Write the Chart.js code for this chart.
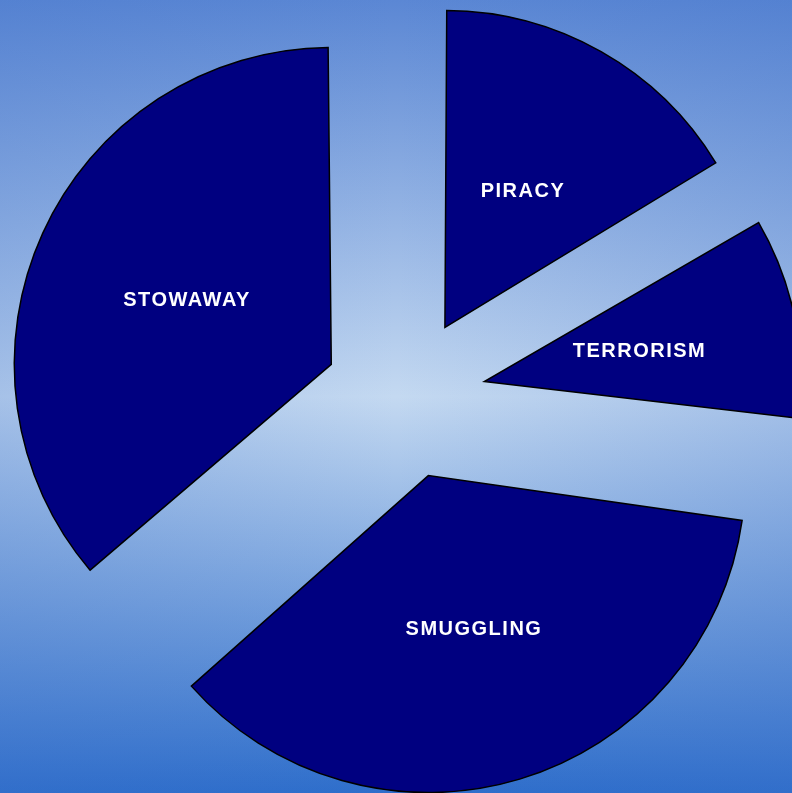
<!DOCTYPE html>
<html>
<head>
<meta charset="utf-8">
<script src="https://cdn.jsdelivr.net/npm/chart.js@4/dist/chart.umd.min.js"></script>
<style>
  html, body { margin: 0; padding: 0; background: #8fb0e4; }
  #wrap { width: 792px; height: 793px; position: relative; }
</style>
</head>
<body>
<div id="wrap"><canvas id="pie"></canvas></div>
<script>
// slice order runs clockwise from 12 o'clock
const categories = ['PIRACY', 'TERRORISM', 'SMUGGLING', 'STOWAWAY'];
const shares = [16.4, 10.7, 36.5, 36.4];

const RADIUS = 317;
const EXPLODE = 81;          // px each slice is pulled out
const OFFSET = EXPLODE * 4;  // chart.js divides arc offset by 4

// background: vertical blue gradient, a bit lighter in the middle
const backdrop = {
    id: 'backdrop',
    beforeDraw: function(chart) {
        const ctx = chart.ctx, w = chart.width, h = chart.height;
        ctx.save();
        const g = ctx.createLinearGradient(0, 0, 0, h);
        g.addColorStop(0, '#5b87d4');
        g.addColorStop(0.5, '#c4d9f1');
        g.addColorStop(1, '#2e6ecb');
        ctx.fillStyle = g;
        ctx.fillRect(0, 0, w, h);
        const s = ctx.createLinearGradient(0, 0, w, 0);
        s.addColorStop(0, 'rgba(60,110,200,0.22)');
        s.addColorStop(0.5, 'rgba(60,110,200,0)');
        s.addColorStop(1, 'rgba(60,110,200,0.22)');
        ctx.fillStyle = s;
        ctx.fillRect(0, 0, w, h);
        ctx.restore();
    }
};

// chart.js grows small exploded arcs; keep every slice on the same radius
const evenRadius = {
    id: 'evenRadius',
    afterDatasetsUpdate: function(chart) {
        const meta = chart.getDatasetMeta(0);
        meta.data.forEach(function(arc) {
            const fix = 1 - Math.sin(Math.min(Math.PI, arc.circumference));
            arc.outerRadius = RADIUS - EXPLODE * fix;
        });
    }
};

const sliceLabels = {
    id: 'sliceLabels',
    afterDatasetsDraw: function(chart) {
        const ctx = chart.ctx;
        const meta = chart.getDatasetMeta(0);
        ctx.save();
        ctx.fillStyle = '#ffffff';
        ctx.font = 'bold 20px "Liberation Sans", Arial, sans-serif';
        ctx.letterSpacing = '1.5px';
        ctx.textAlign = 'center';
        ctx.textBaseline = 'middle';
        meta.data.forEach(function(arc, i) {
            const mid = (arc.startAngle + arc.endAngle) / 2;
            const d = EXPLODE + RADIUS * 0.5;
            ctx.fillText(categories[i], arc.x + Math.cos(mid) * d, arc.y + Math.sin(mid) * d + 2);
        });
        ctx.restore();
    }
};

new Chart(document.getElementById('pie'), {
    type: 'pie',
    data: {
        labels: categories,
        datasets: [{
            data: shares,
            backgroundColor: '#000080',
            borderColor: '#000000',
            borderWidth: 1.5,
            borderJoinStyle: 'miter',
            offset: OFFSET
        }]
    },
    options: {
        responsive: true,
        maintainAspectRatio: false,
        animation: false,
        events: [],
        radius: RADIUS,
        layout: { padding: { left: 18, right: 0, top: 3, bottom: 0 } },
        plugins: {
            legend: { display: false },
            tooltip: { enabled: false }
        }
    },
    plugins: [backdrop, evenRadius, sliceLabels]
});
</script>
</body>
</html>
